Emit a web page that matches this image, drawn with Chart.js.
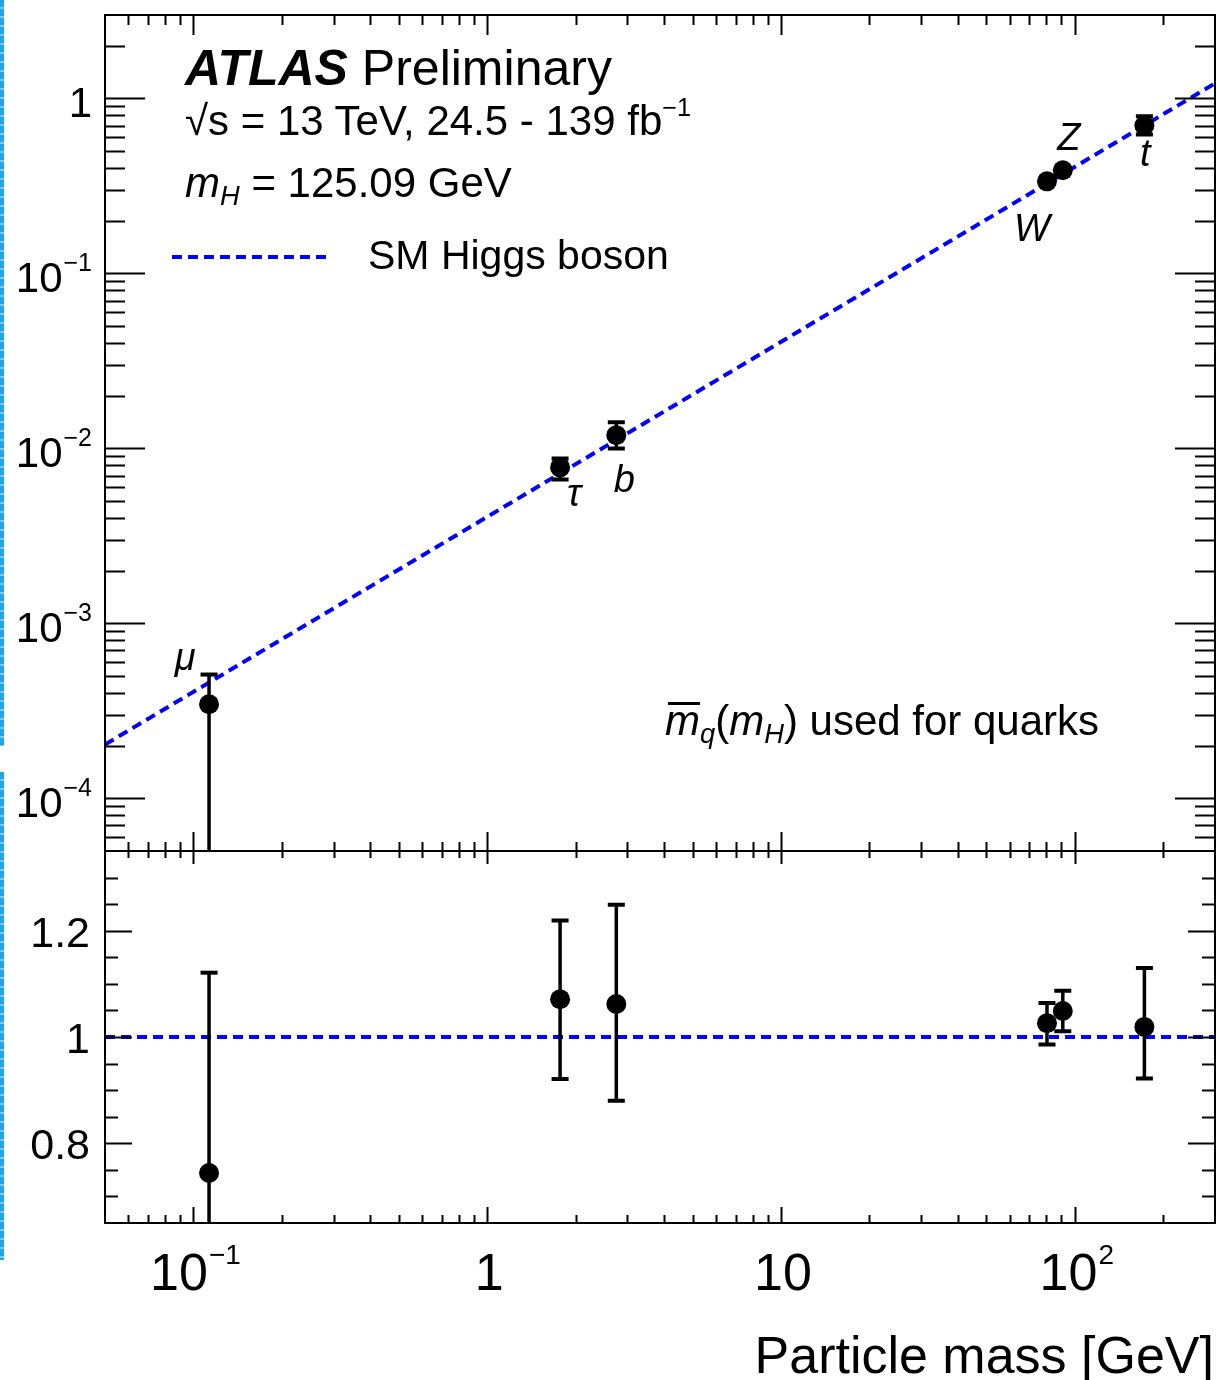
<!DOCTYPE html>
<html>
<head>
<meta charset="utf-8">
<script src="https://cdn.jsdelivr.net/npm/chart.js@4.4.1/dist/chart.umd.min.js"></script>
<style>
  body { margin: 0; background: #fff; }
  #wrap { position: relative; width: 1219px; height: 1380px; overflow: hidden; font-family: "Liberation Sans", Arial, Helvetica, sans-serif; color: #000; }
  canvas { position: absolute; left: 0; }
  .t { position: absolute; line-height: 1; white-space: nowrap; }
  .sup { position: relative; font-size: 0.6em; top: -0.75em; }
  .sub { position: relative; font-size: 0.65em; top: 0.3em; }
  .stripe { position: absolute; left: 0; width: 4px; background: repeating-linear-gradient(to bottom, #20a4e2 0 7px, #7cc9ef 7px 9px); }
</style>
</head>
<body>
<div id="wrap">
  <div class="stripe" style="top:0;height:746px"></div>
  <div class="stripe" style="top:772px;height:488px"></div>
  <canvas id="chartTop" width="1219" height="870" style="top:0"></canvas>
  <canvas id="chartBottom" width="1219" height="550" style="top:830px"></canvas>

  <div class="t" style="left:185px;top:43px;font-size:50px"><b><i>ATLAS</i></b> Preliminary</div>
  <div class="t" style="left:185px;top:100px;font-size:42px">√s = 13 TeV, 24.5 - 139 fb<span class="sup">−1</span></div>
  <div class="t" style="left:185px;top:162px;font-size:42px"><i>m</i><span class="sub"><i>H</i></span> = 125.09 GeV</div>
  <div class="t" style="left:368px;top:235px;font-size:41px">SM Higgs boson</div>
  <div class="t" style="left:665px;top:700px;font-size:42px"><span style="position:relative"><i>m</i><span style="position:absolute;left:0.06em;right:0;top:0.12em;border-top:3px solid #000"></span></span><span class="sub"><i>q</i></span>(<i>m</i><span class="sub"><i>H</i></span>) used for quarks</div>
  <div class="t" style="right:5px;top:1329px;font-size:52px">Particle mass [GeV]</div>
</div>

<script>
const particles = ['μ', 'τ', 'b', 'W', 'Z', 't'];
const massGeV = [0.113, 1.77, 2.75, 80.4, 91.0, 172.5];
const coupling = [3.45e-4, 7.79e-3, 0.0119, 0.336, 0.389, 0.701];
const couplingHi = [5.1e-4, 8.77e-3, 0.0141, 0.349, 0.403, 0.792];
const couplingLo = [0, 6.65e-3, 0.0100, 0.323, 0.375, 0.623];
const ratio = [0.744, 1.071, 1.062, 1.026, 1.049, 1.019];
const ratioHi = [1.121, 1.219, 1.249, 1.064, 1.087, 1.130];
const ratioLo = [0.367, 0.921, 0.880, 0.986, 1.011, 0.922];

// SM expectation line
const smMass = [0.05, 300];
const smCoupling = [2.03e-4, 1.22];
const smRatio = [1, 1];

// ticks
const xTicks = [0.1, 1, 10, 100];
const xTickLabels = [['10', '−1'], ['1', ''], ['10', ''], ['10', '2']];
const yTopTicks = [1e-4, 1e-3, 1e-2, 1e-1, 1];
const yTopTickLabels = [['10', '−4'], ['10', '−3'], ['10', '−2'], ['10', '−1'], ['1', '']];
const yBottomTicks = [0.8, 1, 1.2];
const yBottomTickLabels = ['0.8', '1', '1.2'];

// label placement around each marker (dx, dy to baseline)
const labelOffsets = [[-24, -34], [14, 39], [8, 57], [-15, 60], [6, -20], [1, 41]];

const FONT = '"Liberation Sans", Arial, Helvetica, sans-serif';
const BLUE = '#0000ff';

function logMinors(min, max) {
  const out = [];
  for (let e = Math.floor(Math.log10(min)); e <= Math.ceil(Math.log10(max)); e++) {
    for (let k = 2; k <= 9; k++) {
      const v = k * Math.pow(10, e);
      if (v > min && v < max) out.push(v);
    }
  }
  return out;
}

function supLabel(ctx, base, exp, x, y, align, fb, fe, rise) {
  ctx.font = fb;
  const wb = ctx.measureText(base).width;
  ctx.font = fe;
  const we = exp ? ctx.measureText(exp).width + 1 : 0;
  const w = wb + we;
  const x0 = align === 'right' ? x - w : align === 'center' ? x - w / 2 : x;
  ctx.textAlign = 'left';
  ctx.textBaseline = 'alphabetic';
  ctx.font = fb;
  ctx.fillText(base, x0, y);
  if (exp) {
    ctx.font = fe;
    ctx.fillText(exp, x0 + wb + 1, y - rise);
  }
}

// ROOT style frame: ticks inside on all four sides
const rootFrame = {
  id: 'rootFrame',
  afterDraw(chart, args, o) {
    const { ctx, chartArea: a } = chart;
    const xs = chart.scales.x, ys = chart.scales.y;
    ctx.save();
    ctx.strokeStyle = '#000';
    ctx.fillStyle = '#000';
    ctx.lineWidth = 2;
    ctx.setLineDash([]);
    ctx.beginPath();
    const tickX = (vals, lt, lb) => vals.forEach(v => {
      const px = Math.round(xs.getPixelForValue(v)) + 0.5;
      ctx.moveTo(px, a.top); ctx.lineTo(px, a.top + lt);
      ctx.moveTo(px, a.bottom); ctx.lineTo(px, a.bottom - lb);
    });
    tickX(xTicks, o.xMajTop, o.xMajBot);
    tickX(logMinors(xs.min, xs.max), o.xMinTop, o.xMinBot);
    const tickY = (vals, len) => vals.forEach(v => {
      const py = Math.round(ys.getPixelForValue(v)) + 0.5;
      ctx.moveTo(a.left, py); ctx.lineTo(a.left + len, py);
      ctx.moveTo(a.right, py); ctx.lineTo(a.right - len, py);
    });
    tickY(o.yMajor, o.yMajLen);
    tickY(o.yMinor, o.yMinLen);
    ctx.stroke();
    ctx.strokeRect(a.left, a.top, a.right - a.left, a.bottom - a.top);

    // y tick labels
    o.yMajor.forEach((v, i) => {
      const py = ys.getPixelForValue(v);
      const lab = o.yLabels[i];
      if (Array.isArray(lab)) {
        supLabel(ctx, lab[0], lab[1], a.left - 13, py + 19, 'right', '42px ' + FONT, '25px ' + FONT, 21);
      } else {
        supLabel(ctx, lab, '', a.left - 15, py + 16, 'right', '43px ' + FONT, '', 0);
      }
    });
    // x tick labels
    if (o.xLabels) {
      xTicks.forEach((v, i) => {
        const px = xs.getPixelForValue(v);
        const lab = xTickLabels[i];
        supLabel(ctx, lab[0], lab[1], px + 2, a.bottom + 67, 'center', '52px ' + FONT, '28px ' + FONT, 26);
      });
    }
    ctx.restore();
  }
};

// vertical error bars with end caps
const errorBars = {
  id: 'errorBars',
  afterDatasetsDraw(chart, args, o) {
    const { ctx, chartArea: a } = chart;
    const xs = chart.scales.x, ys = chart.scales.y;
    ctx.save();
    ctx.beginPath();
    ctx.rect(a.left, a.top, a.right - a.left, a.bottom - a.top);
    ctx.clip();
    ctx.strokeStyle = '#000';
    o.x.forEach((xv, i) => {
      const px = xs.getPixelForValue(xv);
      const py = ys.getPixelForValue(o.y[i]);
      const loIn = o.lo[i] >= ys.min;
      const pHi = ys.getPixelForValue(o.hi[i]);
      const pLo = loIn ? ys.getPixelForValue(o.lo[i]) : a.bottom + 10;
      ctx.lineWidth = 3.5;
      ctx.beginPath();
      if (py - pHi > o.minLen) { ctx.moveTo(px, py); ctx.lineTo(px, pHi); }
      if (pLo - py > o.minLen) { ctx.moveTo(px, py); ctx.lineTo(px, pLo); }
      ctx.stroke();
      ctx.lineWidth = 4;
      ctx.beginPath();
      if (py - pHi > o.minLen) { ctx.moveTo(px - 8.5, pHi); ctx.lineTo(px + 8.5, pHi); }
      if (loIn && pLo - py > o.minLen) { ctx.moveTo(px - 8.5, pLo); ctx.lineTo(px + 8.5, pLo); }
      ctx.stroke();
    });
    ctx.restore();
  }
};

// particle names and legend sample in the upper panel
const upperDecor = {
  id: 'upperDecor',
  afterDraw(chart) {
    const { ctx, chartArea: a } = chart;
    const xs = chart.scales.x, ys = chart.scales.y;
    ctx.save();
    ctx.fillStyle = '#000';
    ctx.font = 'italic 38px ' + FONT;
    ctx.textAlign = 'center';
    ctx.textBaseline = 'alphabetic';
    particles.forEach((p, i) => {
      const px = xs.getPixelForValue(massGeV[i]);
      const py = ys.getPixelForValue(coupling[i]);
      ctx.fillText(p, px + labelOffsets[i][0], py + labelOffsets[i][1]);
    });
    const sm = chart.data.datasets[1];
    ctx.strokeStyle = sm.borderColor;
    ctx.lineWidth = sm.borderWidth;
    ctx.setLineDash(sm.borderDash);
    ctx.beginPath();
    ctx.moveTo(a.left + 67, a.top + 242);
    ctx.lineTo(a.left + 227, a.top + 242);
    ctx.stroke();
    ctx.restore();
  }
};

const hiddenAxis = (extra) => Object.assign({
  ticks: { display: false },
  grid: { display: false },
  border: { display: false }
}, extra);

const chartTop = new Chart(document.getElementById('chartTop'), {
  type: 'scatter',
  data: {
    datasets: [{
      label: 'Data',
      data: massGeV.map((m, i) => ({ x: m, y: coupling[i] })),
      pointRadius: 10,
      pointHoverRadius: 10,
      backgroundColor: '#000',
      borderColor: '#000',
      borderWidth: 0
    }, {
      type: 'line',
      label: 'SM Higgs boson',
      data: smMass.map((m, i) => ({ x: m, y: smCoupling[i] })),
      borderColor: BLUE,
      borderWidth: 4,
      borderDash: [10, 6],
      pointRadius: 0,
      fill: false,
      tension: 0
    }]
  },
  options: {
    responsive: false,
    animation: false,
    devicePixelRatio: 1,
    layout: { autoPadding: false, padding: { left: 105, right: 4, top: 15, bottom: 19 } },
    scales: {
      x: hiddenAxis({ type: 'logarithmic', min: 0.05, max: 300, afterFit: s => { s.height = 0; } }),
      y: hiddenAxis({ type: 'logarithmic', min: 5e-5, max: 3, afterFit: s => { s.width = 0; } })
    },
    plugins: {
      legend: { display: false },
      tooltip: { enabled: false },
      rootFrame: {
        xMajTop: 20, xMinTop: 10, xMajBot: 19, xMinBot: 9,
        yMajor: yTopTicks, yLabels: yTopTickLabels, yMajLen: 40,
        yMinor: logMinors(5e-5, 3), yMinLen: 20,
        xLabels: false
      },
      errorBars: { x: massGeV, y: coupling, hi: couplingHi, lo: couplingLo, minLen: 6 }
    }
  },
  plugins: [rootFrame, errorBars, upperDecor]
});

const ratioMinor = [];
for (let k = 14; k <= 26; k++) if (k % 4 !== 0) ratioMinor.push(k * 0.05);

const chartBottom = new Chart(document.getElementById('chartBottom'), {
  type: 'scatter',
  data: {
    datasets: [{
      label: 'Ratio',
      data: massGeV.map((m, i) => ({ x: m, y: ratio[i] })),
      pointRadius: 10,
      pointHoverRadius: 10,
      backgroundColor: '#000',
      borderColor: '#000',
      borderWidth: 0
    }, {
      type: 'line',
      label: 'SM',
      data: smMass.map((m, i) => ({ x: m, y: smRatio[i] })),
      borderColor: BLUE,
      borderWidth: 4,
      borderDash: [10, 6],
      pointRadius: 0,
      fill: false
    }]
  },
  options: {
    responsive: false,
    animation: false,
    devicePixelRatio: 1,
    layout: { autoPadding: false, padding: { left: 105, right: 4, top: 21, bottom: 157 } },
    scales: {
      x: hiddenAxis({ type: 'logarithmic', min: 0.05, max: 300, afterFit: s => { s.height = 0; } }),
      y: hiddenAxis({ type: 'linear', min: 0.65, max: 1.35, afterFit: s => { s.width = 0; } })
    },
    plugins: {
      legend: { display: false },
      tooltip: { enabled: false },
      rootFrame: {
        xMajTop: 13, xMinTop: 7, xMajBot: 16, xMinBot: 8,
        yMajor: yBottomTicks, yLabels: yBottomTickLabels, yMajLen: 27,
        yMinor: ratioMinor, yMinLen: 13,
        xLabels: true
      },
      errorBars: { x: massGeV, y: ratio, hi: ratioHi, lo: ratioLo, minLen: 0 }
    }
  },
  plugins: [rootFrame, errorBars]
});
</script>
</body>
</html>
